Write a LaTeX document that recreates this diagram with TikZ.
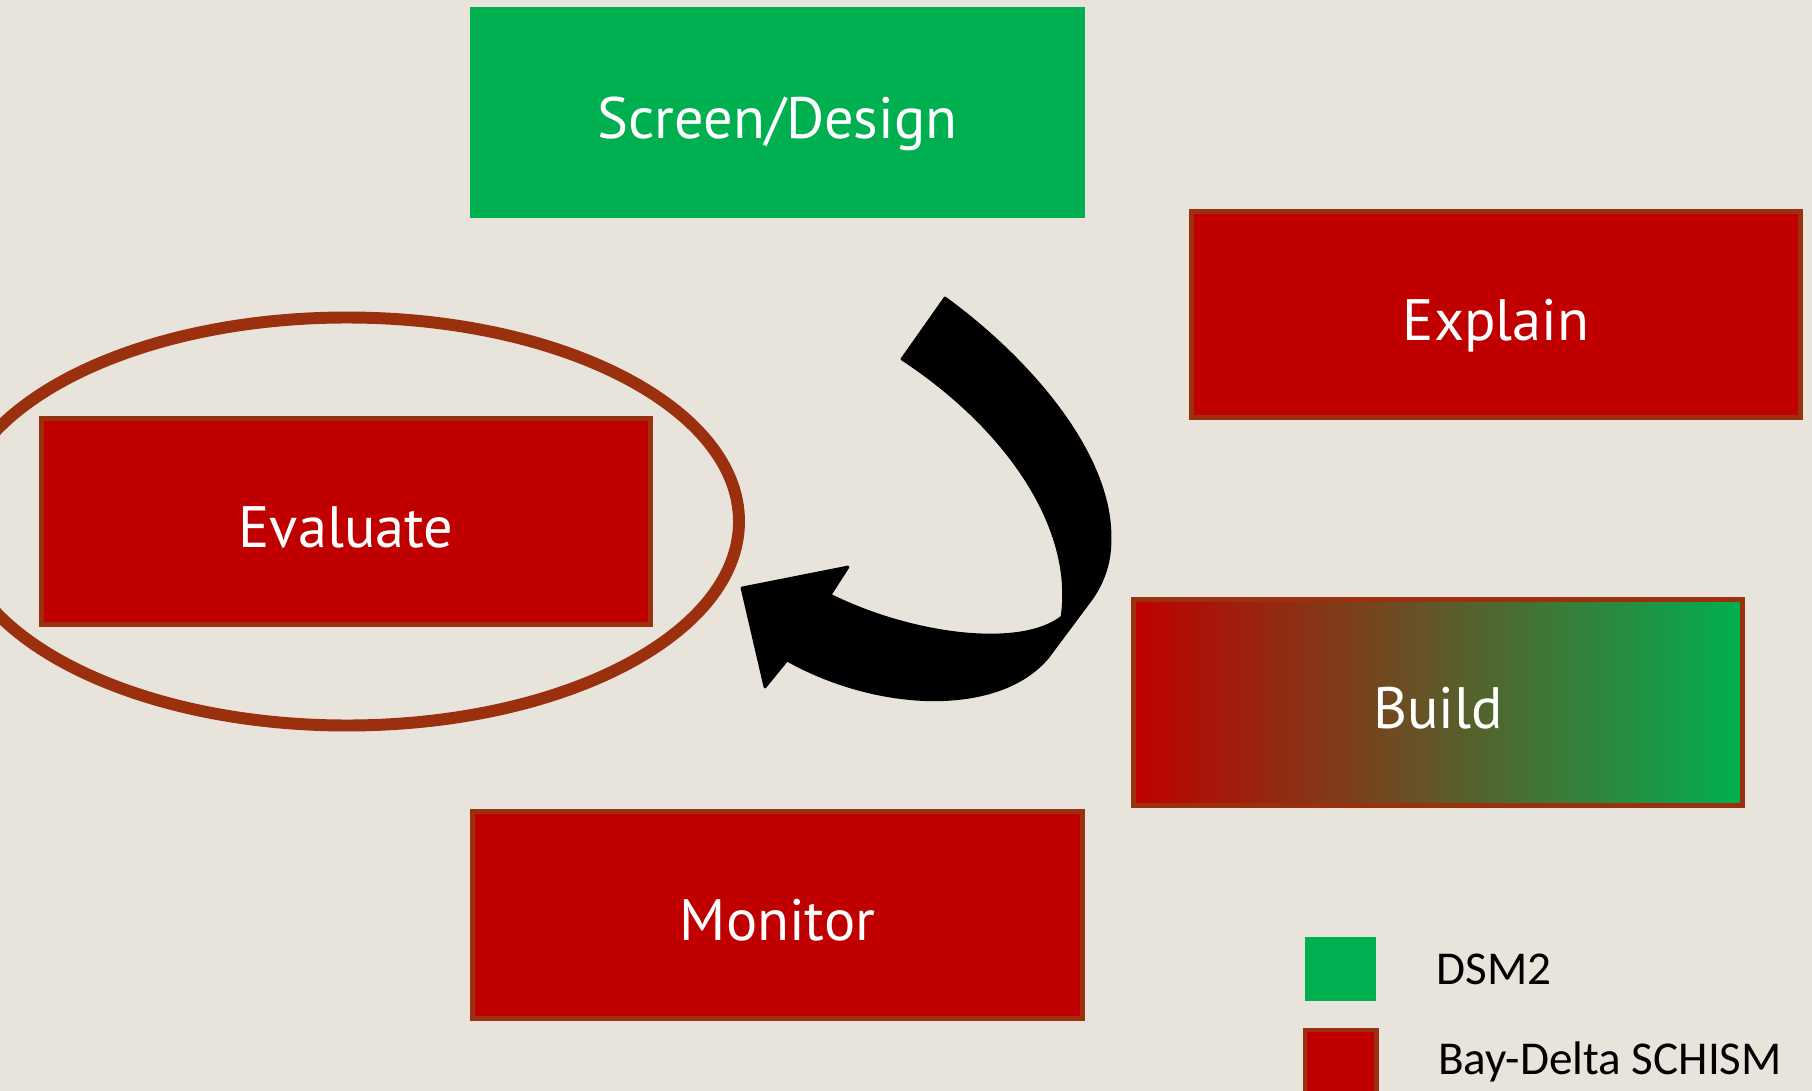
\documentclass[tikz,border=0pt]{standalone}
\usepackage{fontspec}
\usepackage{tikz}
\usetikzlibrary{positioning}
\newfontfamily\stagefont{PT Sans}
\newfontfamily\keyfont{Carlito}
\definecolor{dsmgreen}{RGB}{0,176,80}
\definecolor{schred}{RGB}{192,0,0}
\definecolor{rim}{RGB}{155,48,14}
\definecolor{paper}{RGB}{232,228,220}

\begin{document}
\begin{tikzpicture}[x=0.01cm, y=-0.01cm,
    stage/.style={rectangle, minimum width=6.09cm, minimum height=2.06cm, draw=rim, line width=1.4pt,
      fill=schred, text=white, text height=14.6pt, text depth=0pt,
      font=\stagefont\fontsize{16.6}{20}\selectfont},
    keybox/.style={rectangle, minimum width=0.71cm, minimum height=0.64cm, inner sep=0pt},
    keytext/.style={inner sep=0pt, anchor=west, font=\keyfont\fontsize{13.4}{16}\selectfont}]
  \clip (0,0) rectangle (1812,1091);
  \fill [paper] (0,0) rectangle (1812,1091);

  \draw [rim, line width=3.4pt] (347,521.5) ellipse [x radius=392, y radius=204];

  \node [stage, fill=dsmgreen, draw=dsmgreen] (screen) at (777.5,112.5) {Screen/Design};
  \node [stage] (explain) at (1496,314.5) {Explain};
  \node [stage] (evaluate) at (346,521.5) {Evaluate};
  \node [stage, left color=schred, right color=dsmgreen] (build) at (1438,702.5) {Build};
  \node [stage] (monitor) at (777.5,915) {Monitor};

  % curved arrow
  \filldraw [line width=0.8pt, line join=round] (945,298)
    .. controls (1030,360) and (1112,455) .. (1110,540)
    .. controls (1110,565) and (1102,583) .. (1092,598) -- (1048,657)
    .. controls (1000,715) and (880,712) .. (787,660)
    -- (765,687) -- (742,588) -- (848,567) -- (830,595)
    .. controls (910,635) and (1020,650) .. (1062,617)
    .. controls (1075,530) and (1010,430) .. (902,359) -- cycle;

  % legend
  \node [keybox, fill=dsmgreen] (dsmkey) at (1340.5,969) {};
  \node [keybox, fill=schred, draw=rim, line width=1.4pt] (schkey) at (1340.5,1062) {};
  \node [keytext, right=0.59cm of dsmkey] (dsmlabel) {DSM2};
  \node [keytext, right=0.59cm of schkey] (schlabel) {Bay-Delta SCHISM};
\end{tikzpicture}
\end{document}
